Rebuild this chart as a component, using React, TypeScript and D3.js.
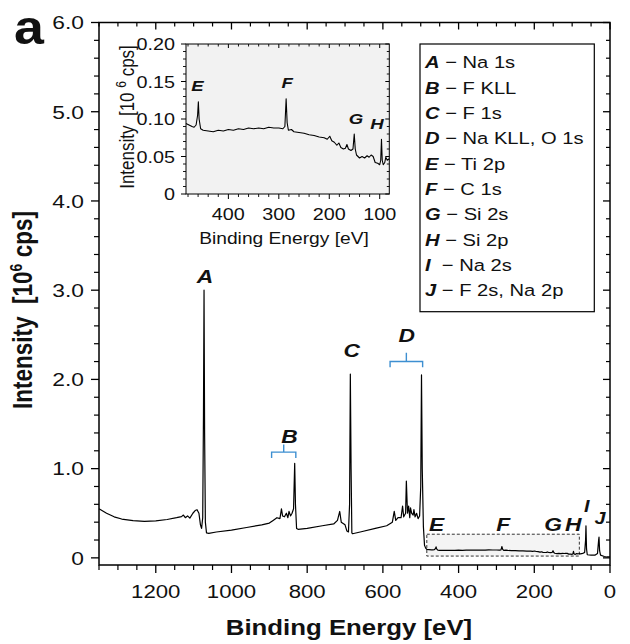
import React from 'react';
import * as d3 from 'd3';

// ---------- data (binding energy eV, intensity 10^6 cps) ----------
const highEnergy: [number, number][] = [
  [1350, 0.55], [1330, 0.5], [1310, 0.46], [1290, 0.435], [1260, 0.418], [1230, 0.41],
  [1200, 0.415], [1170, 0.43], [1145, 0.45], [1132, 0.462], [1127, 0.48], [1122, 0.45],
  [1116, 0.47], [1110, 0.445], [1102, 0.5], [1096, 0.53], [1091, 0.54], [1086, 0.5],
  [1082, 0.37], [1079, 0.33], [1076, 0.45], [1074, 1.6], [1072.5, 3.0], [1071, 1.4],
  [1069, 0.4], [1066, 0.28], [1060, 0.275], [1040, 0.29], [1000, 0.31], [960, 0.34],
  [920, 0.37], [900, 0.39], [890, 0.42], [880, 0.45], [872, 0.44], [868, 0.55],
  [865, 0.47], [860, 0.46], [855, 0.5], [851, 0.45], [848, 0.52], [844, 0.47],
  [840, 0.5], [836, 0.55], [833, 1.06], [831, 0.6], [828, 0.33], [824, 0.32],
  [800, 0.33], [760, 0.36], [730, 0.38], [720, 0.42], [714, 0.52], [710, 0.4],
  [700, 0.37], [695, 0.3], [691, 0.29], [688, 0.6], [686, 2.06], [684, 1.0],
  [682, 0.28], [680, 0.27], [660, 0.29], [620, 0.33], [590, 0.36], [575, 0.4],
  [570, 0.52], [566, 0.42], [560, 0.45], [552, 0.45], [548, 0.58], [545, 0.46],
  [540, 0.5], [538, 0.86], [535, 0.5], [532, 0.58], [529, 0.45], [527, 0.56],
  [524, 0.5], [520, 0.48], [518, 0.54], [515, 0.46], [511, 0.5], [507, 0.44],
  [503, 0.47], [500, 0.8], [498, 2.05], [496, 1.0], [493, 0.35], [490, 0.14],
  [487, 0.11],
];

const insetRegion: [number, number][] = [
  [484, 0.094], [478, 0.092], [472, 0.09], [468, 0.089], [464, 0.092], [461, 0.105],
  [459.5, 0.123], [458, 0.1], [455, 0.087], [450, 0.085], [440, 0.084], [430, 0.083],
  [420, 0.085], [410, 0.084], [400, 0.086], [390, 0.085], [380, 0.087], [370, 0.086],
  [360, 0.088], [350, 0.087], [340, 0.088], [330, 0.087], [320, 0.089], [310, 0.088],
  [300, 0.088], [292, 0.087], [288, 0.09], [285.5, 0.127], [283.5, 0.095], [281, 0.085],
  [275, 0.086], [270, 0.083], [260, 0.082], [250, 0.081], [240, 0.079], [230, 0.078],
  [220, 0.076], [210, 0.075], [204, 0.073], [199, 0.077], [195, 0.071], [190, 0.069],
  [185, 0.065], [181, 0.068], [177, 0.062], [172, 0.06], [168, 0.061], [165, 0.066],
  [162, 0.06], [157, 0.058], [153, 0.06], [150.5, 0.08], [148.5, 0.06], [146, 0.052],
  [140, 0.048], [135, 0.05], [130, 0.048], [125, 0.051], [121, 0.049], [117, 0.052],
  [113, 0.05], [109, 0.042], [104, 0.041], [100, 0.039], [98, 0.045], [96.5, 0.073],
  [95, 0.045], [93, 0.039], [90, 0.042], [88, 0.049], [85, 0.045], [83, 0.046], [81, 0.047],
];

const lowEnergy: [number, number][] = [
  [78, 0.045], [72, 0.05], [67, 0.06], [64.5, 0.2], [63.5, 0.36], [62, 0.1], [60, 0.035],
  [50, 0.03], [40, 0.03], [33, 0.05], [30, 0.2], [29, 0.232], [27.5, 0.08], [25, 0.03],
  [15, 0.015], [8, 0.01], [0, 0.01],
];

const yTicks = [0, 1, 2, 3, 4, 5, 6];
const yTickLabels = ['0', '1.0', '2.0', '3.0', '4.0', '5.0', '6.0'];
const xTicks = [1200, 1000, 800, 600, 400, 200, 0];
const insetXTicks = [400, 300, 200, 100];
const insetYTicks = [0, 0.05, 0.1, 0.15, 0.2];
const insetYTickLabels = ['0', '0.05', '0.10', '0.15', '0.20'];

const legendKeys = ['A', 'B', 'C', 'D', 'E', 'F', 'G', 'H', 'I', 'J'];
const legendNames = ['Na 1s', 'F KLL', 'F 1s', 'Na KLL, O 1s', 'Ti 2p', 'C 1s', 'Si 2s', 'Si 2p', 'Na 2s', 'F 2s, Na 2p'];

// peak label anchors (eV, intensity)
const peakKeys = ['A', 'B', 'C', 'D', 'E', 'F', 'G', 'H', 'I', 'J'];
const peakEnergy = [1070, 847, 682.4, 537, 458, 282, 150, 97, 61.6, 26.4];
const peakLabelLevel = [3.085, 1.285, 2.25, 2.42, 0.305, 0.305, 0.305, 0.305, 0.518, 0.38];
const insetKeys = ['E', 'F', 'G', 'H'];
const insetEnergy = [461.5, 283.3, 147.2, 105.3];
const insetLevel = [0.1377, 0.141, 0.0933, 0.0863];

// brackets: [from eV, to eV, bar level, end level, stem level]
const bracketB = [894, 830, 1.185, 1.12, 1.27];
const bracketD = [581, 495, 2.2, 2.137, 2.3];
const boxRange = [484, 81, 0.02, 0.265];

const SX = 1.2;
const FONT = "'Liberation Sans', Arial, Helvetica, sans-serif";

function Txt(props: any) {
  const { x, y, size, anchor = 'start', bold, italic, rot, children, fill = '#111' } = props;
  const tf = `translate(${x},${y}) scale(${SX},1)` + (rot ? ' rotate(-90)' : '');
  return (
    <text transform={tf} fontSize={size} textAnchor={anchor} fontFamily={FONT}
      fontWeight={bold ? 'bold' : 'normal'} fontStyle={italic ? 'italic' : 'normal'} fill={fill}>
      {children}
    </text>
  );
}

export default function App() {
  const W = 630, H = 644;
  const x = d3.scaleLinear().domain([1350, 0]).range([99, 610]);
  const y = d3.scaleLinear().domain([-0.08, 6]).range([565, 22.5]);
  const ix = d3.scaleLinear().domain([484, 81]).range([186, 389.3]);
  const iy = d3.scaleLinear().domain([0, 0.2]).range([194, 44]);

  const full = [...highEnergy, ...insetRegion, ...lowEnergy];
  const line = d3.line<[number, number]>().x(d => x(d[0])).y(d => y(d[1]));
  const iline = d3.line<[number, number]>().x(d => ix(d[0])).y(d => iy(d[1]));

  const [x0, x1] = x.range();
  const [yb, yt] = y.range();
  const majorX = xTicks;
  const minorX = d3.range(1350, -1, -50).filter(v => v % 200 !== 0);
  const minorY = d3.range(0, 6.01, 0.2).map(v => +v.toFixed(2)).filter(v => Math.abs(v - Math.round(v)) > 0.01);

  const [ix0, ix1] = ix.range();
  const [iyb, iyt] = iy.range();
  const iMinorX = d3.range(480, 80, -20).filter(v => v % 100 !== 0);
  const iMinorY = d3.range(0, 0.2001, 0.01).map(v => +v.toFixed(3)).filter(v => Math.round(v * 1000) % 50 !== 0);

  const blue = '#3d8fd1';
  const bracket = (b: number[]) => {
    const xa = x(b[0]), xb = x(b[1]), xm = (xa + xb) / 2;
    return (
      <path d={`M${xa},${y(b[3])}V${y(b[2])}H${xb}V${y(b[3])}M${xm},${y(b[2])}V${y(b[4])}`}
        fill="none" stroke={blue} strokeWidth={1.4} />
    );
  };

  return (
    <svg width={W} height={H} style={{ position: 'absolute', left: 0, top: 0, background: '#fff' }}>
      {/* panel letter */}
      <text transform="translate(14,44) scale(1.12,1)" fontSize={48} fontWeight="bold" fontFamily={FONT} fill="#111">a</text>

      {/* dashed zoom box */}
      <rect x={x(boxRange[0])} y={y(boxRange[3])} width={x(boxRange[1]) - x(boxRange[0])}
        height={y(boxRange[2]) - y(boxRange[3])} fill="#f4f4f4" stroke="#333" strokeWidth={1}
        strokeDasharray="3,2" />

      {/* main spectrum */}
      <path d={line(full) || ''} fill="none" stroke="#000" strokeWidth={1.2} strokeLinejoin="round" />

      {/* brackets */}
      {bracket(bracketB)}
      {bracket(bracketD)}

      {/* peak labels */}
      {peakKeys.map((k, i) => (
        <Txt key={k} x={x(peakEnergy[i])} y={y(peakLabelLevel[i])}
          size={k === 'I' || k === 'J' ? 16.5 : 19} anchor="middle" bold italic>{k}</Txt>
      ))}

      {/* main frame */}
      <rect x={x0} y={yt} width={x1 - x0} height={yb - yt} fill="none" stroke="#000" strokeWidth={1.5} />
      {majorX.map(v => (
        <g key={'mx' + v}>
          <line x1={x(v)} x2={x(v)} y1={yb} y2={yb + 8} stroke="#000" strokeWidth={1.3} />
          <line x1={x(v)} x2={x(v)} y1={yt} y2={yt + 7} stroke="#000" strokeWidth={1.3} />
          <Txt x={x(v)} y={598} size={18.5} anchor="middle">{String(v)}</Txt>
        </g>
      ))}
      {minorX.map(v => (
        <g key={'nx' + v}>
          <line x1={x(v)} x2={x(v)} y1={yb} y2={yb + 5} stroke="#000" strokeWidth={1.2} />
          <line x1={x(v)} x2={x(v)} y1={yt} y2={yt + 4} stroke="#000" strokeWidth={1.2} />
        </g>
      ))}
      {yTicks.map((v, i) => (
        <g key={'my' + v}>
          <line x1={x0 - 8} x2={x0} y1={y(v)} y2={y(v)} stroke="#000" strokeWidth={1.3} />
          <line x1={x1 - 7} x2={x1} y1={y(v)} y2={y(v)} stroke="#000" strokeWidth={1.3} />
          <Txt x={84} y={y(v) + 6.8} size={19} anchor="end">{yTickLabels[i]}</Txt>
        </g>
      ))}
      {minorY.map(v => (
        <g key={'ny' + v}>
          <line x1={x0 - 5} x2={x0} y1={y(v)} y2={y(v)} stroke="#000" strokeWidth={1.2} />
          <line x1={x1 - 4} x2={x1} y1={y(v)} y2={y(v)} stroke="#000" strokeWidth={1.2} />
        </g>
      ))}

      {/* axis titles */}
      <Txt x={349} y={635} size={21.5} anchor="middle" bold>Binding Energy [eV]</Txt>
      <Txt x={32} y={310} size={22.5} anchor="middle" bold rot>
        Intensity{'\u00a0\u00a0'}[10<tspan dy={-8} fontSize={14}>6</tspan><tspan dy={8}>{' cps]'}</tspan>
      </Txt>

      {/* inset */}
      <rect x={ix0} y={iyt} width={ix1 - ix0} height={iyb - iyt} fill="#f2f2f2" />
      <path d={iline(insetRegion) || ''} fill="none" stroke="#000" strokeWidth={1.1} strokeLinejoin="round" />
      {insetKeys.map((k, i) => (
        <Txt key={'i' + k} x={ix(insetEnergy[i])} y={iy(insetLevel[i])} size={15.5} anchor="middle" bold italic>{k}</Txt>
      ))}
      <rect x={ix0} y={iyt} width={ix1 - ix0} height={iyb - iyt} fill="none" stroke="#000" strokeWidth={1} />
      {insetXTicks.map(v => (
        <g key={'ix' + v}>
          <line x1={ix(v)} x2={ix(v)} y1={iyb} y2={iyb + 5} stroke="#000" strokeWidth={1} />
          <line x1={ix(v)} x2={ix(v)} y1={iyt} y2={iyt + 4} stroke="#000" strokeWidth={1} />
          <Txt x={ix(v)} y={220} size={16.5} anchor="middle">{String(v)}</Txt>
        </g>
      ))}
      {iMinorX.map(v => (
        <g key={'inx' + v}>
          <line x1={ix(v)} x2={ix(v)} y1={iyb} y2={iyb + 3} stroke="#000" strokeWidth={0.9} />
          <line x1={ix(v)} x2={ix(v)} y1={iyt} y2={iyt + 2.5} stroke="#000" strokeWidth={0.9} />
        </g>
      ))}
      {insetYTicks.map((v, i) => (
        <g key={'iy' + v}>
          <line x1={ix0 - 5} x2={ix0} y1={iy(v)} y2={iy(v)} stroke="#000" strokeWidth={1} />
          <line x1={ix1 - 4} x2={ix1} y1={iy(v)} y2={iy(v)} stroke="#000" strokeWidth={1} />
          <Txt x={175} y={iy(v) + 6} size={16.5} anchor="end">{insetYTickLabels[i]}</Txt>
        </g>
      ))}
      {iMinorY.map(v => (
        <g key={'iny' + v}>
          <line x1={ix0 - 3} x2={ix0} y1={iy(v)} y2={iy(v)} stroke="#000" strokeWidth={0.9} />
          <line x1={ix1 - 2.5} x2={ix1} y1={iy(v)} y2={iy(v)} stroke="#000" strokeWidth={0.9} />
        </g>
      ))}
      <Txt x={284} y={244} size={16} anchor="middle">Binding Energy [eV]</Txt>
      <Txt x={134} y={117} size={17} anchor="middle" rot>
        Intensity{'\u00a0\u00a0'}[10{'\u00a0'}<tspan dy={-7} fontSize={12}>6</tspan><tspan dy={7}>{'\u00a0cps]'}</tspan>
      </Txt>

      {/* legend */}
      <rect x={420} y={44} width={174.3} height={267.7} fill="#fff" stroke="#000" strokeWidth={1.2} />
      {legendKeys.map((k, i) => (
        <Txt key={'lg' + k} x={425} y={68.3 + i * 25.35} size={16.8}>
          <tspan fontWeight="bold" fontStyle="italic">{k}</tspan>
          <tspan>{(k === 'I' ? '\u00a0\u00a0' : ' ') + '\u2212 ' + legendNames[i]}</tspan>
        </Txt>
      ))}
    </svg>
  );
}
